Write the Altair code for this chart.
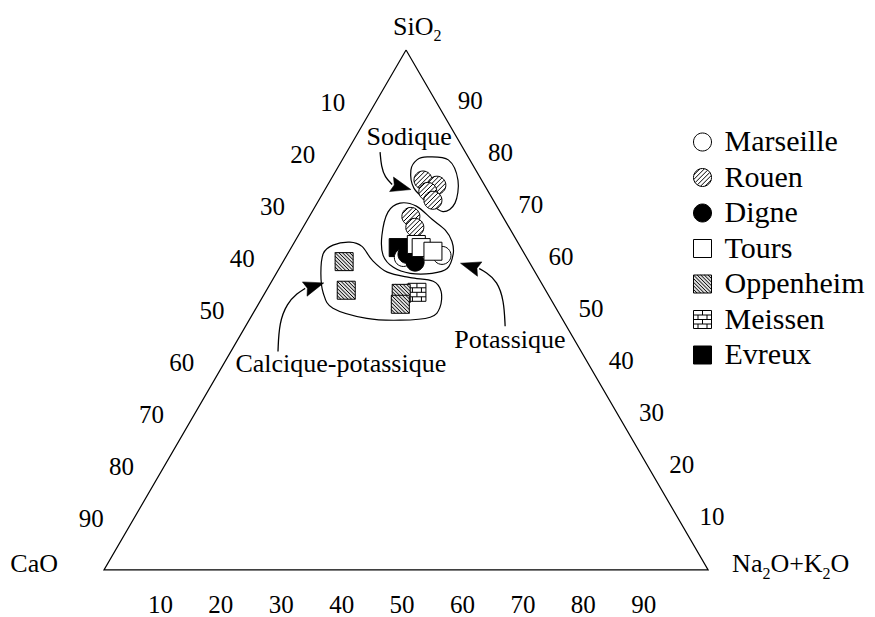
import math
import altair as alt
import pandas as pd

# ---------------- data ----------------
site_order = ["Marseille", "Rouen", "Digne", "Tours", "Oppenheim", "Meissen", "Evreux"]
site_fill = ["white", "white", "black", "white", "#dedede", "white", "black"]

# sample compositions (%): SiO2, CaO, Na2O+K2O  (drawing order)
pt_site = ["Meissen", "Oppenheim", "Oppenheim", "Oppenheim", "Oppenheim", "Evreux",
           "Rouen", "Rouen", "Rouen", "Rouen", "Rouen", "Rouen",
           "Marseille", "Marseille", "Digne", "Digne", "Tours", "Tours", "Tours"]
pt_sio2 = [53.4, 59.3, 53.8, 53.2, 51.1, 62.0, 75.0, 74.0, 72.8, 71.1, 68.0, 65.9,
           60.1, 60.5, 60.7, 59.2, 62.6, 62.0, 61.3]
pt_cao = [21.5, 30.6, 33.0, 24.2, 25.4, 20.3, 9.7, 7.9, 10.0, 10.0, 15.2, 15.6,
          20.4, 13.8, 19.5, 18.9, 17.0, 16.5, 14.9]
pt_alk = [25.1, 10.1, 13.2, 22.6, 23.5, 17.7, 15.3, 18.1, 17.2, 18.9, 16.8, 18.5,
          19.5, 25.7, 19.8, 21.9, 20.4, 21.5, 23.8]

tick_values = [10, 20, 30, 40, 50, 60, 70, 80, 90]

# envelopes (cartesian ternary units: x along base 0-100, h height 0-86.6)
env_id = ["sod"] * 9 + ["pot"] * 13 + ["cal"] * 16
env_x = [53.5, 57.0, 58.6, 58.1, 56.1, 53.6, 51.3, 50.8, 51.8,
         46.0, 47.0, 49.0, 51.7, 54.3, 56.5, 57.6, 57.8, 56.8, 54.3, 50.7, 47.9, 46.2,
         36.3, 37.9, 40.7, 42.7, 44.4, 46.9, 50.7, 54.5, 55.8, 55.6, 54.0, 49.0, 43.5, 37.9, 36.3, 35.9]
env_h = [68.8, 68.3, 64.9, 61.1, 59.7, 61.4, 63.6, 66.6, 68.3,
         55.7, 59.6, 61.1, 60.6, 58.4, 56.6, 54.7, 52.6, 50.2, 49.4, 49.4, 50.4, 52.4,
         52.7, 54.1, 54.6, 53.9, 51.6, 49.6, 48.7, 48.1, 46.4, 43.7, 42.1, 41.6, 41.9, 43.6, 46.1, 49.4]

# arrow shafts
arr_id = ["a1"] * 4 + ["a2"] * 5 + ["a3"] * 5
arr_x = [45.7, 45.9, 46.5, 47.7,
         66.4, 66.2, 65.1, 63.2, 62.1,
         28.8, 29.0, 30.3, 32.0, 33.3]
arr_h = [69.6, 67.2, 65.4, 64.2,
         40.6, 44.9, 48.1, 49.6, 50.2,
         36.4, 41.2, 44.4, 46.1, 46.9]
# arrow heads
head_x = [49.2, 60.6, 34.8]
head_h = [63.8, 50.6, 47.3]
head_angle = [105, 287, 72]

# annotation labels
note_text = ["Sodique", "Potassique", "Calcique-potassique"]
note_x = [50.5, 67.2, 39.2]
note_h = [70.8, 37.0, 32.9]

# ---------------- symbol shapes ----------------
CIRCLE = "M1,0A1,1,0,1,1,-1,0A1,1,0,1,1,1,0Z"
SQUARE = "M-1,-1L1,-1L1,1L-1,1Z"


def f(v):
    return f"{v:.3f}"


def rouen_shape():
    p = CIRCLE
    for c in (-1.25, -0.75, -0.25, 0.25, 0.75, 1.25):
        d = math.sqrt(2 - c * c)
        x1, x2 = (c - d) / 2, (c + d) / 2
        p += f"M{f(x1)},{f(c - x1)}L{f(x2)},{f(c - x2)}"
    return p


def opp_shape():
    p = SQUARE
    c = -1.6
    while c <= 1.61:
        x1, x2 = max(-1, -1 - c), min(1, 1 - c)
        p += f"M{f(x1)},{f(x1 + c)}L{f(x2)},{f(x2 + c)}"
        c += 0.4
    return p


MEISSEN = (SQUARE + "M-1,-0.5L1,-0.5M-1,0L1,0M-1,0.5L1,0.5"
           "M0,-1L0,-0.5M-0.5,-0.5L-0.5,0M0.5,-0.5L0.5,0M0,0L0,0.5"
           "M-0.5,0.5L-0.5,1M0.5,0.5L0.5,1")
site_shape = [CIRCLE, rouen_shape(), CIRCLE, SQUARE, opp_shape(), MEISSEN, SQUARE]
site_stroke = ["black"] * len(site_order)
ARROW = "M0,-1L0.75,1L0,0.72L-0.75,1Z"

FONT = "Liberation Serif"

# ---------------- scales ----------------
XS = alt.Scale(domain=[-15.89, 126.3], nice=False, zero=False)
YS = alt.Scale(domain=[-7.835, 93.6], nice=False, zero=False)  # 609 px tall


def tern(chart):
    return chart.transform_calculate(
        x="datum.N + datum.S / 2", h="datum.S * 0.8660254"
    )


def xy():
    return dict(x=alt.X("x:Q", scale=XS, axis=None), y=alt.Y("h:Q", scale=YS, axis=None))


# triangle
tri_df = pd.DataFrame({"S": [100, 0, 0, 100], "N": [0, 0, 100, 0], "o": [0, 1, 2, 3]})
triangle = tern(alt.Chart(tri_df)).mark_line(color="black", strokeWidth=1.2).encode(
    order="o:Q", **xy())

# tick labels
left_df = pd.DataFrame({"S": [100 - t for t in tick_values], "N": [0] * 9, "t": tick_values})
right_df = pd.DataFrame({"S": tick_values, "N": [100 - t for t in tick_values], "t": tick_values})
bot_df = pd.DataFrame({"S": [0] * 9, "N": tick_values, "t": tick_values})


def tick_layer(df, dx, dy):
    return tern(alt.Chart(df)).mark_text(
        font=FONT, fontSize=25, color="black", align="center", baseline="middle", dx=dx, dy=dy
    ).encode(text="t:N", **xy())


left_ticks = tick_layer(left_df, -43, 1)
right_ticks = tick_layer(right_df, 34, -1)
bot_ticks = tick_layer(bot_df, -4, 35)


# vertex labels (with subscripts)
def vlabel(S, N, txt, size, dx, dy, align="left"):
    df = pd.DataFrame({"S": [S], "N": [N], "t": [txt]})
    return tern(alt.Chart(df)).mark_text(
        font=FONT, fontSize=size, color="black", align=align, baseline="alphabetic", dx=dx, dy=dy
    ).encode(text="t:N", **xy())


vertex_labels = [
    vlabel(100, 0, "SiO", 26, -13, -15),
    vlabel(100, 0, "2", 16, 27.5, -9),
    vlabel(0, 0, "CaO", 26, -46, 2, align="right"),
    vlabel(0, 100, "Na", 26, 24, 2),
    vlabel(0, 100, "2", 16, 54.3, 9),
    vlabel(0, 100, "O+K", 26, 62.3, 2),
    vlabel(0, 100, "2", 16, 114.5, 9),
    vlabel(0, 100, "O", 26, 122.5, 2),
]

# envelopes
env_df = pd.DataFrame({"id": env_id, "x": env_x, "h": env_h, "o": range(len(env_id))})
envelopes = alt.Chart(env_df).mark_line(
    color="black", strokeWidth=1.2, interpolate="cardinal-closed"
).encode(detail="id:N", order="o:Q", **xy())

# arrows
arr_df = pd.DataFrame({"id": arr_id, "x": arr_x, "h": arr_h, "o": range(len(arr_id))})
shafts = alt.Chart(arr_df).mark_line(
    color="black", strokeWidth=1.3, interpolate="basis"
).encode(detail="id:N", order="o:Q", **xy())

head_df = pd.DataFrame({"x": head_x, "h": head_h, "a": head_angle})
heads = alt.Chart(head_df).mark_point(
    shape=ARROW, filled=True, fill="black", stroke="black", strokeWidth=0.5, size=400, opacity=1
).encode(angle=alt.Angle("a:Q", scale=None), **xy())

notes_df = pd.DataFrame({"t": note_text, "x": note_x, "h": note_h})
notes = alt.Chart(notes_df).mark_text(
    font=FONT, fontSize=26, color="black", align="center", baseline="alphabetic"
).encode(text="t:N", **xy())

# sample points
pts_df = pd.DataFrame({"site": pt_site, "S": pt_sio2, "C": pt_cao, "N": pt_alk})
points = tern(alt.Chart(pts_df)).mark_point(
    filled=True, size=324, strokeWidth=1, opacity=1
).encode(
    fill=alt.Fill("site:N", scale=alt.Scale(domain=site_order, range=site_fill),
                  legend=alt.Legend(title=None)),
    shape=alt.Shape("site:N", scale=alt.Scale(domain=site_order, range=site_shape),
                    legend=alt.Legend(title=None)),
    stroke=alt.Stroke("site:N", scale=alt.Scale(domain=site_order, range=site_stroke),
                      legend=alt.Legend(title=None)),
    **xy(),
)

chart = alt.layer(
    triangle, left_ticks, right_ticks, bot_ticks, *vertex_labels,
    envelopes, shafts, heads, notes, points,
).properties(
    width=859, height=609, padding=0,
    autosize=alt.AutoSizeParams(type="none"),
).configure_view(stroke=None).configure_legend(
    orient="none", legendX=679.5, legendY=119, padding=0,
    labelFont=FONT, labelFontSize=30, labelColor="black", labelLimit=0, labelOffset=7,
    rowPadding=5.5, symbolSize=324, symbolStrokeColor="black", symbolStrokeWidth=1,
    symbolOpacity=1,
)

chart.save("out.html", embed_options={"renderer": "svg", "actions": False})
